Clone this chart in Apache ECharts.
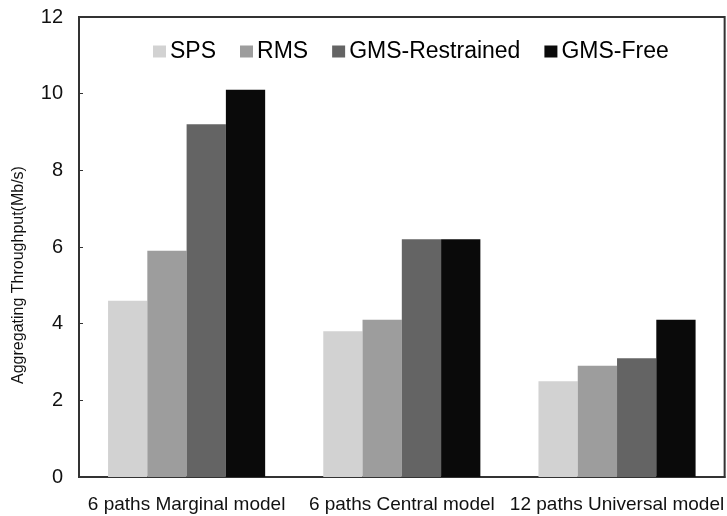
<!DOCTYPE html>
<html>
<head>
<meta charset="utf-8">
<script src="https://cdn.jsdelivr.net/npm/echarts@6/dist/echarts.min.js"></script>
<style>
  html, body { margin: 0; padding: 0; background: #fff; }
  #chart { width: 727px; height: 516px; }
</style>
</head>
<body>
<div id="chart"></div>
<script>
// categories on the x axis
const categories = ['6 paths Marginal model', '6 paths Central model', '12 paths Universal model'];
// series names and values (Mb/s)
const seriesNames = ['SPS', 'RMS', 'GMS-Restrained', 'GMS-Free'];
const spsValues = [4.6, 3.8, 2.5];
const rmsValues = [5.9, 4.1, 2.9];
const gmsRestrainedValues = [9.2, 6.2, 3.1];
const gmsFreeValues = [10.1, 6.2, 4.1];
const seriesColors = ['#d2d2d2', '#9d9d9d', '#646464', '#0a0a0a'];

const chart = echarts.init(document.getElementById('chart'));
const font = 'Liberation Sans, Arial, sans-serif';

const values = [spsValues, rmsValues, gmsRestrainedValues, gmsFreeValues];

const option = {
  animation: false,
  backgroundColor: '#fff',
  grid: {
    left: 79, top: 17, right: 1, bottom: 39,
    show: true,
    borderColor: '#333',
    borderWidth: 2,
    backgroundColor: 'transparent'
  },
  legend: {
    data: seriesNames,
    top: 35,
    left: 148,
    itemWidth: 13,
    itemHeight: 12,
    itemGap: 24,
    icon: 'rect',
    textStyle: { fontFamily: font, fontSize: 23, color: '#000', padding: [0, 0, 0, -1] }
  },
  xAxis: {
    type: 'category',
    data: categories,
    axisLine: { lineStyle: { color: '#333', width: 2 } },
    axisTick: { show: false },
    axisLabel: { fontFamily: font, fontSize: 19, color: '#111', margin: 18, interval: 0 }
  },
  yAxis: {
    type: 'value',
    min: 0, max: 12, interval: 2,
    name: 'Aggregating Throughput(Mb/s)',
    nameLocation: 'middle',
    nameGap: 52,
    nameTextStyle: { fontFamily: font, fontSize: 16, color: '#111', padding: [0, 56, 0, 0] },
    axisLine: { show: true, lineStyle: { color: '#333', width: 2 } },
    axisTick: { show: true, inside: true, length: 4, lineStyle: { color: '#333' } },
    splitLine: { show: false },
    axisLabel: { fontFamily: font, fontSize: 20, color: '#111', margin: 16 }
  },
  series: seriesNames.map((name, i) => ({
    name: name,
    type: 'bar',
    data: values[i],
    barGap: '0%',
    barCategoryGap: '27%',
    itemStyle: { color: seriesColors[i] }
  }))
};

chart.setOption(option);
</script>
</body>
</html>
